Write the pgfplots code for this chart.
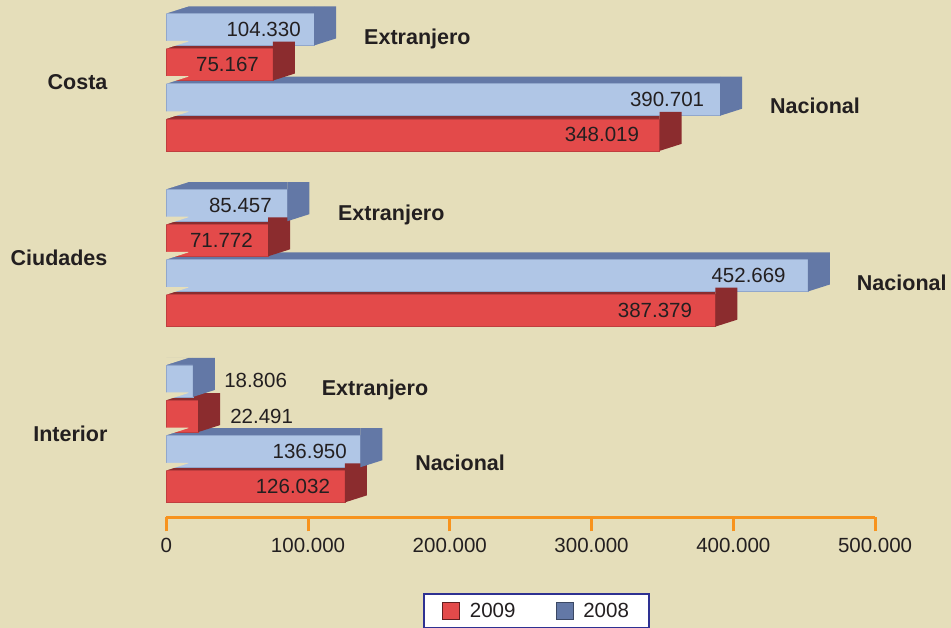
\documentclass[border=0pt]{standalone}
\usepackage{pgfplots}
\pgfplotsset{compat=1.18}
\usepackage{pgfplotstable}
\usepackage{fontspec}
\setmainfont{Liberation Sans}
\usetikzlibrary{backgrounds}
\definecolor{bgc}{RGB}{229,222,186}
\definecolor{bluF}{RGB}{176,198,230}
\definecolor{bluD}{RGB}{99,120,166}
\definecolor{redF}{RGB}{227,74,74}
\definecolor{redD}{RGB}{139,44,46}
\definecolor{orng}{RGB}{247,147,30}
\definecolor{txt}{RGB}{35,31,32}
\definecolor{legb}{RGB}{46,49,146}
\newcommand\numfont{\fontsize{20.5}{24}\selectfont}
\newcommand\labfont{\fontsize{21.5}{26}\selectfont\bfseries}

% 2009 (rows: Costa Extr., Costa Nac., Ciudades Extr., Ciudades Nac., Interior Extr., Interior Nac.)
\pgfplotstableread{
y v
-1 75167
-3 348019
-6 71772
-8 387379
-11 22491
-13 126032
}\redT
% 2008
\pgfplotstableread{
y v
0 104330
-2 390701
-5 85457
-7 452669
-10 18806
-12 136950
}\bluT

% right (side) face of a 3D bar, drawn at the end of the bar
\pgfdeclareplotmark{side3d}{%
  \pgfpathmoveto{\pgfqpoint{0pt}{-16pt}}%
  \pgfpathlineto{\pgfqpoint{0pt}{23pt}}%
  \pgfpathlineto{\pgfqpoint{22pt}{23pt}}%
  \pgfpathlineto{\pgfqpoint{22pt}{-9pt}}%
  \pgfpathclose\pgfusepathqfill}
% bevel at the start of the top face
\pgfdeclareplotmark{tri3d}{%
  \pgfpathmoveto{\pgfqpoint{-1pt}{16pt}}%
  \pgfpathlineto{\pgfqpoint{0pt}{16pt}}%
  \pgfpathlineto{\pgfqpoint{22pt}{23.03pt}}%
  \pgfpathlineto{\pgfqpoint{22pt}{23.6pt}}%
  \pgfpathlineto{\pgfqpoint{-1pt}{23.6pt}}%
  \pgfpathclose\pgfusepathqfill}

\pgfplotsset{
  topface/.style={xbar, bar width=0.2, bar shift=0.555, fill=#1, draw=none, forget plot},
  sideface/.style={only marks, mark=side3d, mark options={fill=#1, draw=none}, forget plot},
  bevel/.style={only marks, mark=tri3d, mark options={fill=bgc, draw=none}, forget plot},
  frontface/.style 2 args={xbar, bar width=0.91, bar shift=0, fill=#1, draw=#2!40!#1, line width=0.6pt, forget plot,
    point meta=x,
    nodes near coords={\pgfmathprintnumber[fixed,precision=0,1000 sep={.},assume math mode=true]{\pgfplotspointmeta}},
    every node near coord/.append style={font=\numfont, text=txt, inner sep=0pt, anchor=east, line width=0pt, draw=none},
  },
}

\begin{document}
\begin{tikzpicture}
\begin{axis}[
  name=ax, scale only axis, width=708.75pt, height=517.06pt,
  xmin=0, xmax=500000, ymin=-13.88, ymax=0.83,
  clip=false,
  scaled x ticks=false,
  axis x line*=bottom, axis y line*=left,
  y axis line style={draw=none},
  x axis line style={draw=orng, line width=3pt},
  xtick={0,100000,200000,300000,400000,500000},
  xticklabels={0,100.000,200.000,300.000,400.000,500.000},
  xtick style={draw=orng, line width=3pt},
  ytick style={draw=none},
  major tick length=14pt,
  tick align=outside,
  ytick={-1.5,-6.5,-11.5},
  yticklabels={Costa,Ciudades,Interior},
  yticklabel style={font=\labfont, text=txt, inner sep=0pt, anchor=east, xshift=-44.7pt},
  xticklabel style={font=\numfont, text=txt, inner sep=0pt, yshift=-7pt},
  legend columns=2,
  legend style={at={(axis description cs:0.5224,-0.1808)}, anchor=center, draw=legb, line width=2pt, fill=white, font=\numfont, text=txt, inner xsep=18pt, inner ysep=7pt, /tikz/every even column/.append style={column sep=38pt}, /tikz/every odd column/.append style={column sep=8pt}},
]
% top faces
\addplot[topface=redD] table[x=v,y=y] {\redT};
\addplot[topface=bluD] table[x=v,y=y] {\bluT};
\addplot[bevel] table[x expr=0,y=y] {\redT};
\addplot[bevel] table[x expr=0,y=y] {\bluT};
% side faces
\addplot[sideface=redD] table[x=v,y=y] {\redT};
\addplot[sideface=bluD] table[x=v,y=y] {\bluT};
% front faces with value labels
\addplot[frontface={redF}{redD},
  coordinate style/.condition={\coordindex==0}{xshift=-14pt},
  coordinate style/.condition={\coordindex==1}{xshift=-20.6pt},
  coordinate style/.condition={\coordindex==2}{xshift=-15.3pt},
  coordinate style/.condition={\coordindex==3}{xshift=-23.4pt},
  coordinate style/.condition={\coordindex==4}{xshift=94.8pt},
  coordinate style/.condition={\coordindex==5}{xshift=-15pt},
] table[x=v,y=y] {\redT};
\addplot[frontface={bluF}{bluD},
  coordinate style/.condition={\coordindex==0}{xshift=-13.5pt},
  coordinate style/.condition={\coordindex==1}{xshift=-16pt},
  coordinate style/.condition={\coordindex==2}{xshift=-15.7pt},
  coordinate style/.condition={\coordindex==3}{xshift=-22.3pt},
  coordinate style/.condition={\coordindex==4}{xshift=94pt},
  coordinate style/.condition={\coordindex==5}{xshift=-13.7pt},
] table[x=v,y=y] {\bluT};

\addlegendimage{legend image code/.code={\draw[fill=redF,draw=redD!70!black,line width=0.8pt] (0pt,-8.5pt) rectangle (17pt,8.5pt);}}
\addlegendentry{2009}
\addlegendimage{legend image code/.code={\draw[fill=bluD,draw=bluD!60!black,line width=0.8pt] (0pt,-8.5pt) rectangle (17pt,8.5pt);}}
\addlegendentry{2008}

\node[anchor=base west, font=\labfont, text=txt, inner sep=0pt] at (axis cs:139500,-0.443) {Extranjero};
\node[anchor=base west, font=\labfont, text=txt, inner sep=0pt] at (axis cs:425900,-2.387) {Nacional};
\node[anchor=base west, font=\labfont, text=txt, inner sep=0pt] at (axis cs:121100,-5.442) {Extranjero};
\node[anchor=base west, font=\labfont, text=txt, inner sep=0pt] at (axis cs:487100,-7.414) {Nacional};
\node[anchor=base west, font=\labfont, text=txt, inner sep=0pt] at (axis cs:109600,-10.401) {Extranjero};
\node[anchor=base west, font=\labfont, text=txt, inner sep=0pt] at (axis cs:175500,-12.554) {Nacional};
\end{axis}
\begin{scope}[on background layer]
  \fill[bgc] ([xshift=-166.3pt,yshift=-110.7pt]ax.south west) rectangle ++(951pt,628pt);
\end{scope}
\pgfresetboundingbox
\path[use as bounding box] ([xshift=-166.3pt,yshift=-110.7pt]ax.south west) rectangle ++(951pt,628pt);
\end{tikzpicture}
\end{document}
